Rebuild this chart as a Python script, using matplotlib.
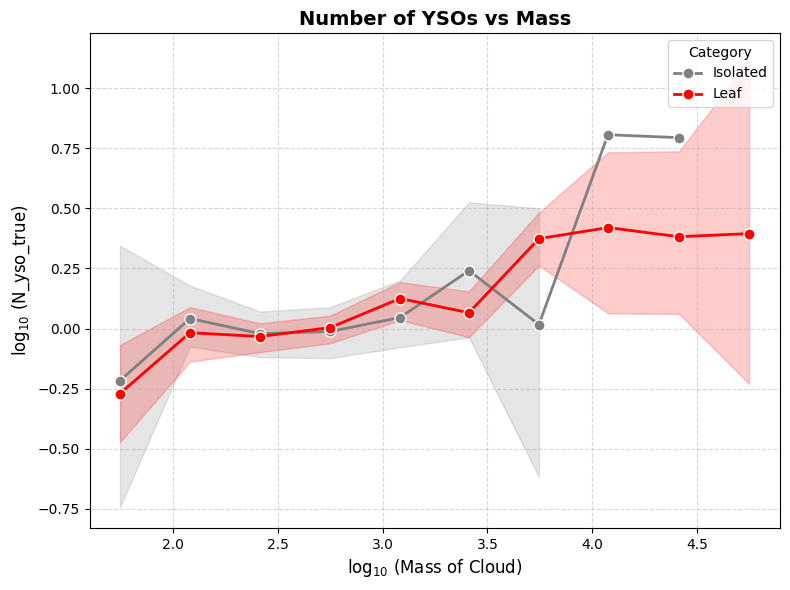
import matplotlib
matplotlib.use("Agg")
import matplotlib.pyplot as plt
import numpy as np

# Data
iso_x = [1.747, 2.081, 2.415, 2.749, 3.083, 3.412, 3.746, 4.075, 4.414]
iso_y = [-0.216, 0.042, -0.021, -0.012, 0.046, 0.241, 0.017, 0.806, 0.794]
iso_lo = [-0.743, -0.075, -0.119, -0.123, -0.078, -0.036, -0.618, np.nan, np.nan]
iso_hi = [0.345, 0.179, 0.071, 0.089, 0.200, 0.525, 0.500, np.nan, np.nan]

leaf_x = [1.747, 2.081, 2.415, 2.749, 3.083, 3.412, 3.746, 4.075, 4.414, 4.748]
leaf_y = [-0.270, -0.017, -0.033, 0.004, 0.125, 0.066, 0.374, 0.420, 0.382, 0.395]
leaf_lo = [-0.472, -0.137, -0.098, -0.061, 0.035, -0.036, 0.262, 0.064, 0.061, -0.230]
leaf_hi = [-0.068, 0.089, 0.022, 0.054, 0.193, 0.155, 0.483, 0.733, 0.737, 1.114]

categories = ["Isolated", "Leaf"]
colors = ["gray", "red"]

fig, ax = plt.subplots(figsize=(7.9, 5.9), dpi=100)

series = [(iso_x, iso_y, iso_lo, iso_hi), (leaf_x, leaf_y, leaf_lo, leaf_hi)]
for (x, y, lo, hi), name, c in zip(series, categories, colors):
    ax.fill_between(x, lo, hi, color=c, alpha=0.2)
    ax.plot(x, y, color=c, lw=2, marker="o", markersize=8,
            markeredgecolor="white", markeredgewidth=1, label=name)

ax.set_title("Number of YSOs vs Mass", fontsize=14, fontweight="bold")
ax.set_xlabel(r"log$_{10}$ (Mass of Cloud)", fontsize=12)
ax.set_ylabel(r"log$_{10}$ (N_yso_true)", fontsize=12)
ax.set_yticks([-0.75, -0.5, -0.25, 0, 0.25, 0.5, 0.75, 1.0])
ax.set_ylim(-0.829, 1.229)
ax.set_xlim(1.604, 4.896)
ax.grid(True, linestyle="--", alpha=0.5)
ax.legend(title="Category", loc="upper right")
fig.subplots_adjust(left=90/790, right=780/790, top=1-33/590, bottom=1-528/590)
fig.savefig("out.png", dpi=100)
